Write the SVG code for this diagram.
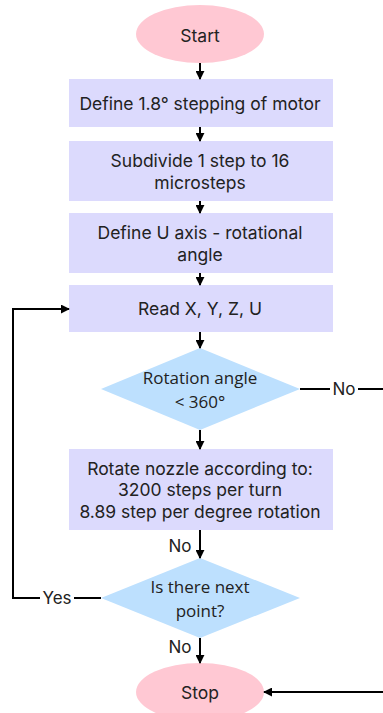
<svg xmlns="http://www.w3.org/2000/svg" width="383" height="713" viewBox="0 0 383 713">
  <defs>
    <marker id="arrow" viewBox="0 0 10 10" refX="9" refY="5" markerWidth="4.5" markerHeight="4.5" orient="auto-start-reverse">
      <path d="M0,0 L10,5 L0,10 Z" fill="#000"/>
    </marker>
  </defs>
  <style>
    .term { fill: #ffc8d3; }
    .proc { fill: #dcdafd; }
    .dec { fill: #bde0fe; }
    .t { font-family: Inter, "Noto Sans", sans-serif; font-size: 17.5px; fill: #222; text-anchor: middle; dominant-baseline: central; }
    .td { font-family: "Open Sans", "Noto Sans", sans-serif; font-size: 17px; fill: #222; text-anchor: middle; dominant-baseline: central; }
    .lbl { font-family: Inter, "Noto Sans", sans-serif; font-size: 17px; fill: #222; text-anchor: middle; dominant-baseline: central; }
    .c { fill: none; stroke: #000; stroke-width: 2; }
  </style>
  <rect width="383" height="713" fill="#fff"/>

  <g id="start">
    <ellipse class="term" cx="200" cy="34" rx="64" ry="29"/>
    <text class="t" x="200" y="35">Start</text>
  </g>
  <g id="define-step">
    <rect class="proc" x="69" y="79" width="264" height="48"/>
    <text class="t" x="200" y="103">Define 1.8° stepping of motor</text>
  </g>
  <g id="subdivide">
    <rect class="proc" x="69" y="141" width="264" height="60"/>
    <text class="t" x="200" y="160">Subdivide 1 step to 16</text>
    <text class="t" x="200" y="182">microsteps</text>
  </g>
  <g id="define-u">
    <rect class="proc" x="69" y="213" width="264" height="60"/>
    <text class="t" x="200" y="232">Define U axis - rotational</text>
    <text class="t" x="200" y="254">angle</text>
  </g>
  <g id="read">
    <rect class="proc" x="69" y="285" width="264" height="47"/>
    <text class="t" x="200" y="308">Read X, Y, Z, U</text>
  </g>
  <g id="angle-check">
    <polygon class="dec" points="200,348 300,389 200,430 101,389"/>
    <text class="td" x="200" y="377">Rotation angle</text>
    <text class="td" x="200" y="401">&lt; 360°</text>
  </g>
  <g id="rotate">
    <rect class="proc" x="69" y="449" width="264" height="81"/>
    <text class="t" x="200" y="468">Rotate nozzle according to:</text>
    <text class="t" x="200" y="489">3200 steps per turn</text>
    <text class="t" x="200" y="511">8.89 step per degree rotation</text>
  </g>
  <g id="next-point">
    <polygon class="dec" points="200,558 300,598 200,638 101,598"/>
    <text class="td" x="200" y="586">Is there next</text>
    <text class="td" x="200" y="610">point?</text>
  </g>
  <g id="stop">
    <ellipse class="term" cx="200" cy="692" rx="64" ry="29"/>
    <text class="t" x="200" y="692">Stop</text>
  </g>

  <g id="connectors">
    <line class="c" x1="200" y1="63" x2="200" y2="79" marker-end="url(#arrow)"/>
    <line class="c" x1="200" y1="127" x2="200" y2="141" marker-end="url(#arrow)"/>
    <line class="c" x1="200" y1="201" x2="200" y2="213" marker-end="url(#arrow)"/>
    <line class="c" x1="200" y1="273" x2="200" y2="285" marker-end="url(#arrow)"/>
    <line class="c" x1="200" y1="332" x2="200" y2="348" marker-end="url(#arrow)"/>
    <line class="c" x1="200" y1="430" x2="200" y2="449" marker-end="url(#arrow)"/>
    <line class="c" x1="200" y1="530" x2="200" y2="558" marker-end="url(#arrow)"/>
    <line class="c" x1="200" y1="638" x2="200" y2="663" marker-end="url(#arrow)"/>
    <!-- No branch from the angle check, running off the right edge down to Stop -->
    <line class="c" x1="300" y1="389" x2="330" y2="389"/>
    <line class="c" x1="358" y1="389" x2="385" y2="389"/>
    <text class="lbl" x="344" y="389">No</text>
    <polyline class="c" points="385,692 264,692" marker-end="url(#arrow)"/>
    <!-- Yes loop back to Read -->
    <line class="c" x1="101" y1="598" x2="74" y2="598"/>
    <text class="lbl" x="57" y="598">Yes</text>
    <polyline class="c" points="40,598 13,598 13,309 69,309" marker-end="url(#arrow)"/>
    <text class="lbl" x="180" y="546">No</text>
    <text class="lbl" x="180" y="647">No</text>
  </g>
</svg>
